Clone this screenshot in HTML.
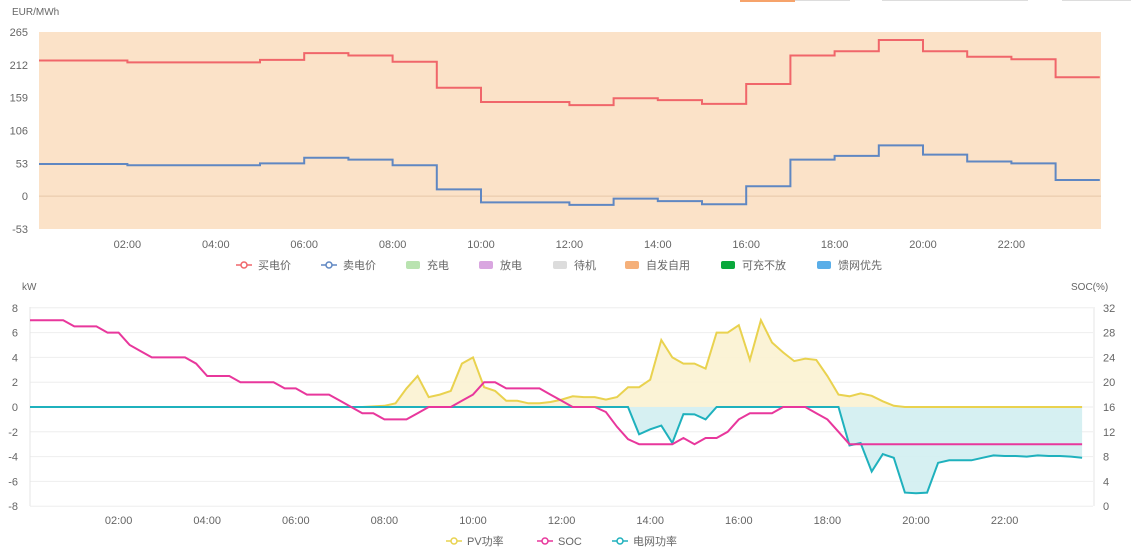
<!DOCTYPE html>
<html><head><meta charset="utf-8">
<style>
html,body{margin:0;padding:0;background:#fff;}
svg{display:block;font-family:"Liberation Sans","Noto Sans CJK SC",sans-serif;}
</style></head>
<body>
<svg id="chart" width="1131" height="555" viewBox="0 0 1131 555">
  <g>
    <rect x="740" y="0" width="55" height="2" fill="#f6a36b"/>
    <rect x="795" y="0" width="55" height="1" fill="#ddd"/>
    <rect x="882" y="0" width="146" height="1" fill="#ddd"/>
    <rect x="1062" y="0" width="69" height="1" fill="#ddd"/>
  </g>
  <g id="topchart"></g>
  <g id="botchart"></g>
</svg>
<script>
// ---- price chart data (hourly) ----
const hours = [0,1,2,3,4,5,6,7,8,9,10,11,12,13,14,15,16,17,18,19,20,21,22,23];
const buyPrice = [219,219,216,216,216,220,231,227,217,175,152,152,147,158,155,149,181,227,234,252,234,225,221,192];
const sellPrice = [52,52,50,50,50,53,62,59,50,11,-10,-10,-14,-4,-8,-13,16,59,65,82,67,56,53,26];
const priceTicks = [265,212,159,106,53,0,-53];
const timeLabels = ["02:00","04:00","06:00","08:00","10:00","12:00","14:00","16:00","18:00","20:00","22:00"];
const timeTickHours = [2,4,6,8,10,12,14,16,18,20,22];
// ---- power chart data (15-min) ----
const pvPower = [0,0,0,0, 0,0,0,0, 0,0,0,0, 0,0,0,0, 0,0,0,0, 0,0,0,0, 0,0,0,0,
 0,0,0,0.05, 0.1,0.3,1.5,2.5, 0.8,1.0,1.3,3.5, 4.0,1.6,1.3,0.5, 0.5,0.3,0.3,0.4,
 0.6,0.86,0.8,0.8, 0.6,0.8,1.6,1.6, 2.2,5.4,4.0,3.5, 3.5,3.1,6.0,6.0, 6.6,3.8,7.0,5.2,
 4.4,3.7,3.9,3.8, 2.5,1.0,0.86,1.1, 0.9,0.46,0.1,0, 0,0,0,0, 0,0,0,0, 0,0,0,0, 0,0,0,0];
const socPct = [30,30,30,30, 29,29,29,28, 28,26,25,24, 24,24,24,23, 21,21,21,20, 20,20,20,19,
 19,18,18,18, 17,16,15,15, 14,14,14,15, 16,16,16,17, 18,20,20,19, 19,19,19,18,
 17,16,16,16, 15.2,12.8,10.8,10, 10,10,10,11, 10,11,11,12, 14,15,15,15, 16,16,16,15,
 14,12,10,10, 10,10,10,10, 10,10,10,10, 10,10,10,10, 10,10,10,10, 10,10,10,10];
const gridPower = [0,0,0,0, 0,0,0,0, 0,0,0,0, 0,0,0,0, 0,0,0,0, 0,0,0,0, 0,0,0,0,
 0,0,0,0, 0,0,0,0, 0,0,0,0, 0,0,0,0, 0,0,0,0, 0,0,0,0,
 0,0,0,-2.2, -1.8,-1.5,-2.9,-0.57, -0.6,-1.0,0,0, 0,0,0,0, 0,0,0,0,
 0,0,-3.1,-2.9, -5.2,-3.8,-4.1,-6.9, -6.95,-6.9,-4.5,-4.3, -4.3,-4.3,-4.1,-3.9,
 -3.95,-3.95,-4.0,-3.9, -3.95,-3.95,-4.0,-4.1];
const kwTicks = [8,6,4,2,0,-2,-4,-6,-8];
const socTicks = [32,28,24,20,16,12,8,4,0];

const NS = "http://www.w3.org/2000/svg";
function mk(parent, tag, attrs, text){
  const e = document.createElementNS(NS, tag);
  for (const k in attrs) e.setAttribute(k, attrs[k]);
  if (text !== undefined) e.textContent = text;
  parent.appendChild(e);
  return e;
}
const topG = document.getElementById('topchart');
const botG = document.getElementById('botchart');

// ---- top axes ----
const xT = h => 39 + h * 44.2;
const yT = v => 32 + (265 - v) / 318 * 197;
let bg = mk(topG, 'rect', {x:39, y:32, width:1062, height:197, fill:'#fbe2c8'});


let zl = mk(topG, 'line', {x1:39, x2:1101, y1:yT(0), y2:yT(0), stroke:'#e6c7a8', 'stroke-width':1});


let ut = mk(topG, 'text', {x:12, y:15, 'font-size':10, fill:'#666'}, 'EUR/MWh');


priceTicks.forEach(v => {
  const t = mk(topG, 'text', {x:28, y:yT(v)+4, 'font-size':11, fill:'#666', 'text-anchor':'end'}, String(v));
  
  
});
timeLabels.forEach((l, i) => {
  const t = mk(topG, 'text', {x:xT(timeTickHours[i]), y:248, 'font-size':11, fill:'#666', 'text-anchor':'middle'}, l);
  
  
});
function stepPath(vals){
  let d = '';
  vals.forEach((v, i) => {
    const x0 = xT(hours[i]), x1 = xT(hours[i] + 1);
    d += (i === 0 ? 'M' : 'L') + x0 + ',' + yT(v) + 'L' + x1 + ',' + yT(v);
  });
  return d;
}
let bl = mk(topG, 'path', {d:stepPath(buyPrice), fill:'none', stroke:'#f0666a', 'stroke-width':2});


let sl = mk(topG, 'path', {d:stepPath(sellPrice), fill:'none', stroke:'#5f87c2', 'stroke-width':2});



// top legend
const topLegend = [
  ['line','#f0666a',244,'买电价'],['line','#5f87c2',329,'卖电价'],
  ['box','#b9e3b0',413,'充电'],['box','#d9a6e0',486,'放电'],['box','#dcdcdc',560,'待机'],
  ['box','#f5b07a',632,'自发自用'],['box','#0aa83c',728,'可充不放'],['box','#5aaee8',824,'馈网优先']];
topLegend.forEach(it => {
  const g = mk(topG, 'g', {});
  
  
  if (it[0] === 'line') {
    mk(g, 'line', {x1:it[2]-8, x2:it[2]+8, y1:265, y2:265, stroke:it[1], 'stroke-width':1.5});
    mk(g, 'circle', {cx:it[2], cy:265, r:3, fill:'#fff', stroke:it[1], 'stroke-width':1.5});
  } else {
    mk(g, 'rect', {x:it[2]-7, y:261, width:14, height:8, rx:2, fill:it[1]});
  }
  mk(g, 'text', {x:it[2]+14, y:269, 'font-size':11, fill:'#666'}, it[3]);
});

// ---- bottom axes ----
const xB = i => 30 + (i / 4) * 44.3;
const xBh = h => 30 + h * 44.3;
const yB = v => 407 - v * 12.4;
const yS = s => yB((s - 16) / 2);
kwTicks.forEach(v => {
  const gl = mk(botG, 'line', {x1:30, x2:1093, y1:yB(v), y2:yB(v), stroke:'#eeeeee', 'stroke-width':1});
  
  
  const t = mk(botG, 'text', {x:18, y:yB(v)+4, 'font-size':11, fill:'#666', 'text-anchor':'end'}, String(v));
  
  
});
socTicks.forEach(s => {
  const t = mk(botG, 'text', {x:1103, y:yS(s)+4, 'font-size':11, fill:'#666'}, String(s));
  
  
});
let ax1 = mk(botG, 'line', {x1:30, x2:30, y1:307, y2:506, stroke:'#e5e5e5'});


let ax2 = mk(botG, 'line', {x1:1094, x2:1094, y1:307, y2:506, stroke:'#e5e5e5'});


let ku = mk(botG, 'text', {x:22, y:290, 'font-size':10, fill:'#666'}, 'kW');


let su = mk(botG, 'text', {x:1071, y:290, 'font-size':10, fill:'#666'}, 'SOC(%)');


timeLabels.forEach((l, i) => {
  const t = mk(botG, 'text', {x:xBh(timeTickHours[i]), y:524, 'font-size':11, fill:'#666', 'text-anchor':'middle'}, l);
  
  
});
function linePath(vals, yf){
  return vals.map((v, i) => (i ? 'L' : 'M') + xB(i).toFixed(1) + ',' + yf(v).toFixed(1)).join('');
}
function areaPath(vals){
  return linePath(vals, yB) + 'L' + xB(vals.length-1) + ',' + yB(0) + 'L' + xB(0) + ',' + yB(0) + 'Z';
}
let pa = mk(botG, 'path', {d:areaPath(pvPower), fill:'#fbf2d2', opacity:0.9});


let ga = mk(botG, 'path', {d:areaPath(gridPower), fill:'#d2eef1', opacity:0.9});


let pl = mk(botG, 'path', {d:linePath(pvPower, yB), fill:'none', stroke:'#e9d24f', 'stroke-width':2});


let gline = mk(botG, 'path', {d:linePath(gridPower, yB), fill:'none', stroke:'#1fb1bd', 'stroke-width':2});


let sline = mk(botG, 'path', {d:linePath(socPct, yS), fill:'none', stroke:'#e8379c', 'stroke-width':2});



const botLegend = [['#e9d24f',454,'PV功率'],['#e8379c',545,'SOC'],['#1fb1bd',620,'电网功率']];
botLegend.forEach(it => {
  const g = mk(botG, 'g', {});
  
  
  mk(g, 'line', {x1:it[1]-8, x2:it[1]+8, y1:541, y2:541, stroke:it[0], 'stroke-width':1.5});
  mk(g, 'circle', {cx:it[1], cy:541, r:3, fill:'#fff', stroke:it[0], 'stroke-width':1.5});
  mk(g, 'text', {x:it[1]+13, y:545, 'font-size':11, fill:'#666'}, it[2]);
});
</script>
</body></html>
